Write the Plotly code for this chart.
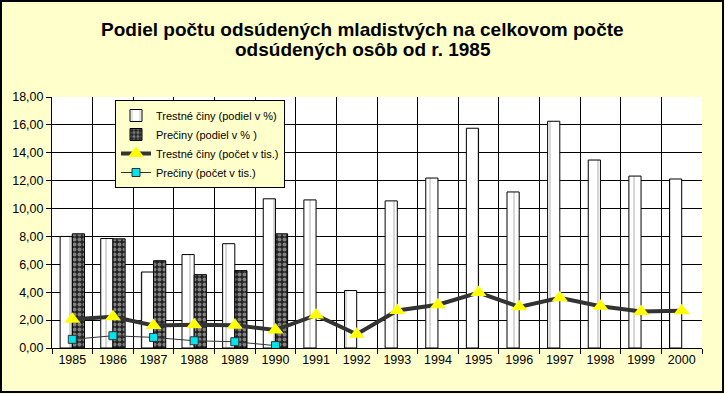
import plotly.graph_objects as go

years = [str(y) for y in range(1985, 2001)]
tc_pct = [8.0, 7.85, 5.45, 6.7, 7.48, 10.7, 10.62, 4.12, 10.55, 12.19, 15.76, 11.19, 16.26, 13.48, 12.33, 12.12]
pr_pct = [8.19, 7.83, 6.26, 5.26, 5.55, 8.19] + [None] * 10
tc_cnt = [2.07, 2.24, 1.62, 1.67, 1.64, 1.29, 2.36, 0.98, 2.69, 3.1, 3.98, 2.95, 3.6, 3.0, 2.62, 2.67]
pr_cnt = [0.62, 0.88, 0.76, 0.52, 0.45, 0.17]
yticks = [0, 2, 4, 6, 8, 10, 12, 14, 16, 18]
ytick_labels = [("%.2f" % v).replace(".", ",") for v in yticks]
title_lines = ["Podiel počtu odsúdených mladistvých na celkovom počte", "odsúdených osôb od r. 1985"]

W, H = 725, 394
ml, mr, mt, mb = 52, 23, 97, 46
pw, ph = W - ml - mr, H - mt - mb

def px_x(x):
    return (x - ml) / pw

def px_y(y):
    return (H - mb - y) / ph

fig = go.Figure()
fig.add_trace(go.Bar(
    x=years, y=tc_pct, name="Trestné činy (podiel v %)",
    marker=dict(color="white", line=dict(color="black", width=1),
                pattern=dict(shape="|", fgcolor="#555", bgcolor="white", size=12, solidity=0.08)),
))
fig.add_trace(go.Bar(
    x=years, y=pr_pct, name="Prečiny (podiel v % )",
    marker=dict(color="#222", line=dict(color="black", width=1),
                pattern=dict(shape=".", fgcolor="#dddddd", bgcolor="#222", size=5, solidity=0.5)),
))
fig.add_trace(go.Scatter(
    x=years, y=tc_cnt, name="Trestné činy (počet v tis.)", mode="lines+markers",
    line=dict(color="#333333", width=4),
    marker=dict(symbol="triangle-up", size=14, color="#FFFF00", line=dict(width=0)),
))
fig.add_trace(go.Scatter(
    x=years[:6], y=pr_cnt, name="Prečiny (počet v tis.)", mode="lines+markers",
    line=dict(color="#333333", width=1),
    marker=dict(symbol="square", size=8, color="#00E5EE", line=dict(color="#333333", width=1)),
))

# outer border
fig.add_shape(type="rect", xref="paper", yref="paper",
              x0=px_x(1), x1=px_x(W - 2), y0=px_y(H - 2), y1=px_y(1),
              line=dict(color="black", width=2), layer="below")

for txt, ypx in zip(title_lines, [29, 50]):
    fig.add_annotation(text="<b>%s</b>" % txt, xref="paper", yref="paper",
                       x=px_x(W / 2), y=px_y(ypx), xanchor="center", yanchor="middle",
                       showarrow=False, font=dict(size=19, color="black"))

fig.update_layout(
    width=W, height=H,
    margin=dict(l=ml, r=mr, t=mt, b=mb, autoexpand=False),
    paper_bgcolor="#FFFFCC", plot_bgcolor="white",
    barmode="group", bargap=0.4, bargroupgap=0,
    font=dict(family="Liberation Sans, Arial, sans-serif", size=11, color="black"),
    showlegend=True,
    legend=dict(x=px_x(115), y=px_y(100), xanchor="left", yanchor="top", bgcolor="#FFFFCC",
                bordercolor="black", borderwidth=1, font=dict(size=11),
                tracegroupgap=0, itemwidth=30),
    xaxis=dict(type="category", range=[-0.5, 15.5], tickson="boundaries", showgrid=True,
               gridcolor="black", gridwidth=1,
               ticks="outside", ticklen=5, tickcolor="black", showline=True, linecolor="black",
               linewidth=1, tickfont=dict(size=12.5)),
    yaxis=dict(range=[0, 18], tickvals=yticks, ticktext=ytick_labels, showgrid=True, gridcolor="black",
               gridwidth=1, ticks="outside", ticklen=5, tickcolor="black", showline=True,
               linecolor="black", linewidth=1, zeroline=False, tickfont=dict(size=12.5)),
)

fig.write_html("out.html", config={"displayModeBar": False},
               post_script="document.body.style.margin='0';")
